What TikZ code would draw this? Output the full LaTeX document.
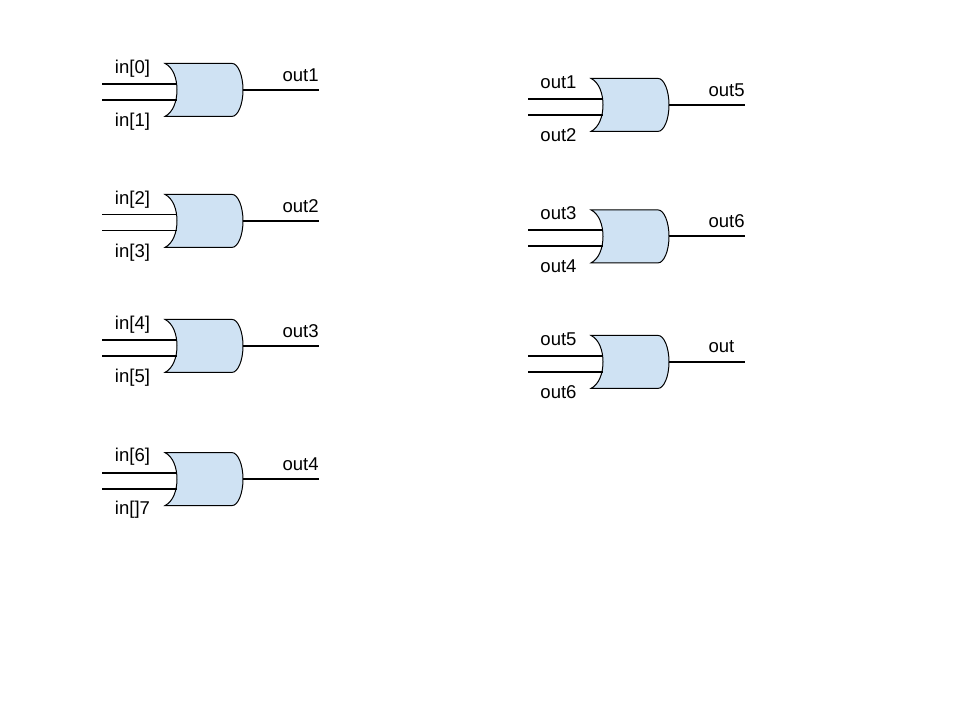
\documentclass[tikz,border=0pt]{standalone}
\usepackage{fontspec}
\setmainfont{Liberation Sans}
\tikzset{
  gatebody/.style={draw=black, line width=0.75pt, fill=gatefill, yshift=-0.3pt},
  wirethick/.style={line width=1.5pt},
  wirethin/.style={line width=0.75pt},
  pinlabel/.style={inner sep=0pt, font=\fontsize{13.9}{16}\selectfont}
}
\definecolor{gatefill}{HTML}{CFE2F3}
% x, top y, name, top label, bottom label, out label, input wire style, label shift
\newcommand{\orgate}[8]{
  \begin{scope}[shift={(#1,#2)}]
    \draw[gatebody] (0,0) -- (67,0) .. controls (73,0) and (78,12) .. (78,26.5)
      .. controls (78,41) and (73,53) .. (67,53) -- (0,53)
      .. controls (8,49) and (12,38) .. (12,26.5)
      .. controls (12,15) and (8,4) .. (0,0) -- cycle;
    \coordinate (#3ia) at (-63,21);
    \coordinate (#3ib) at (-63,37);
    \coordinate (#3ea) at (12,21);
    \coordinate (#3eb) at (12,37);
    \coordinate (#3o) at (78,27);
    \coordinate (#3oe) at (154,27);
    \node[pinlabel] (#3la) at (-32.5,4+#8) {#4};
    \node[pinlabel] (#3lb) at (-32.5,57+#8) {#5};
    \node[pinlabel, anchor=west] (#3lo) at (117.3,12) {#6};
  \end{scope}
  \draw[#7] (#3ia) -- (#3ea);
  \draw[#7] (#3ib) -- (#3eb);
  \draw[wirethick] (#3o) -- (#3oe);
}
\begin{document}
\begin{tikzpicture}[x=0.75pt, y=-0.75pt]
\useasboundingbox (0,0) rectangle (960,720);
% first stage
\orgate{165}{63}{ga}{in[0]}{in[1]}{out1}{wirethick}{1.7}
\orgate{165}{194}{gb}{in[2]}{in[3]}{out2}{wirethin}{1.4}
\orgate{165}{319}{gc}{in[4]}{in[5]}{out3}{wirethick}{1.7}
\orgate{165}{452.2}{gd}{in[6]}{in[]7}{out4}{wirethick}{1}
% second stage
\orgate{591}{78}{ge}{out1}{out2}{out5}{wirethick}{0}
\orgate{591}{209.5}{gf}{out3}{out4}{out6}{wirethick}{0}
\orgate{591}{335}{gg}{out5}{out6}{out}{wirethick}{0}
\end{tikzpicture}
\end{document}
